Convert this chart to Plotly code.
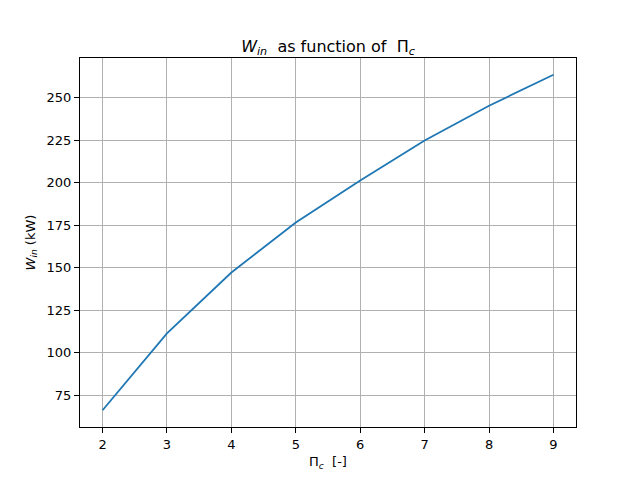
import plotly.graph_objects as go

pressure_ratio = [2, 3, 4, 5, 6, 7, 8, 9]
w_in_kw = [66.2, 111.4, 147.2, 176.6, 201.3, 224.8, 245.3, 263.5]
y_ticks = [75, 100, 125, 150, 175, 200, 225, 250]

fig = go.Figure()
fig.add_trace(go.Scatter(x=pressure_ratio, y=w_in_kw, mode="lines",
                         line=dict(color="#1f77b4", width=1.8)))

axis_common = dict(showline=True, linecolor="black", linewidth=1, mirror=True,
                   ticks="outside", ticklen=5, tickwidth=1, tickcolor="black",
                   showgrid=True, gridcolor="#b0b0b0", gridwidth=1, zeroline=False,
                   tickfont=dict(size=13, color="black"))

fig.update_layout(
    width=640, height=480,
    margin=dict(l=72, r=72, t=50, b=61),
    paper_bgcolor="white", plot_bgcolor="white",
    font=dict(family="DejaVu Sans", color="black"),
    showlegend=False,
    title=dict(text="<i>W</i><sub><i>in</i></sub>  as function of  Π<sub><i>c</i></sub>",
               x=0.5, xref="paper", xanchor="center", y=1, yref="paper", yanchor="bottom",
               pad=dict(b=6), font=dict(size=16)),
    xaxis=dict(range=[1.65, 9.35], tickvals=pressure_ratio,
               title=dict(text="Π<sub><i>c</i></sub>  [-]", font=dict(size=13), standoff=6),
               **axis_common),
    yaxis=dict(range=[56.35, 273.35], tickvals=y_ticks,
               title=dict(text="<i>W</i><sub><i>in</i></sub> (kW)", font=dict(size=13), standoff=8),
               **axis_common),
)

fig.write_html("out.html")
